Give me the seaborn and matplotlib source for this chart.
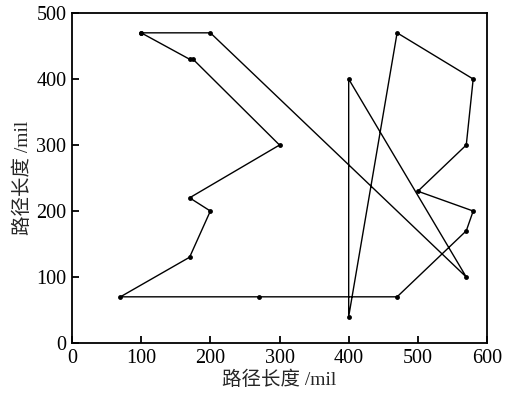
import numpy as np
import pandas as pd
import matplotlib
matplotlib.use("Agg")
import matplotlib.pyplot as plt
import seaborn as sns

# tour order of the cities (closed path)
xs = [100, 200, 570, 400, 400, 470, 580, 570, 500, 580,
      570, 470, 270, 70, 170, 200, 170, 300, 175, 170]
ys = [470, 470, 100, 400, 40, 470, 400, 300, 230, 200,
      170, 70, 70, 70, 130, 200, 220, 300, 430, 430]
x_ticks = [0, 100, 200, 300, 400, 500, 600]
y_ticks = [0, 100, 200, 300, 400, 500]
xlabel = "路径长度 /mil"
ylabel = "路径长度 /mil"

sns.set_style("ticks")
plt.rcParams['font.family'] = ['Liberation Serif', 'Noto Sans CJK SC']
plt.rcParams['axes.unicode_minus'] = False

df = pd.DataFrame({"x": xs + xs[:1], "y": ys + ys[:1], "i": range(len(xs) + 1)})

fig = plt.figure(figsize=(5.05, 3.95), dpi=100)
ax = fig.add_axes([0.1426, 0.1316, 0.8218, 0.8354])
sns.lineplot(data=df, x="x", y="y", sort=False, estimator=None, color="black",
             linewidth=1.0, marker="o", markersize=3.5, markeredgewidth=0, ax=ax)

ax.set_xlim(0, 600)
ax.set_ylim(0, 500)
ax.set_xticks(x_ticks)
ax.set_yticks(y_ticks)
ax.tick_params(direction="in", length=5, width=1.3, labelsize=14.5, colors="black",
               top=False, right=False)
ax.tick_params(axis="x", pad=4)
ax.tick_params(axis="y", pad=4)
for s in ax.spines.values():
    s.set_linewidth(1.3)
    s.set_color("black")
ax.set_xlabel(xlabel, fontsize=14, labelpad=2)
ax.set_ylabel(ylabel, fontsize=14, labelpad=3)

fig.savefig("out.png", dpi=100)
